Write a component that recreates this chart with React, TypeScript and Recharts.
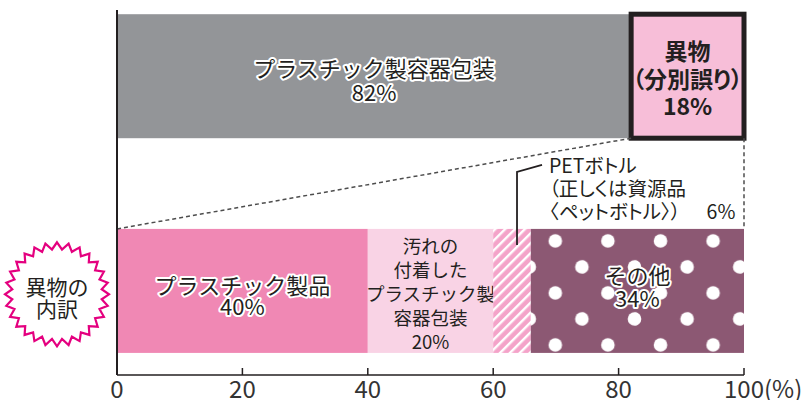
import React from "react";
import { BarChart, Bar, XAxis, YAxis } from "recharts";

// rows: upper = what was put out as plastic packaging, lower = breakdown of the foreign matter
const rowNames = ["プラスチック製容器包装の中身", "異物の内訳"];
const rowTickLines = [[], ["異物の", "内訳"]];

const sortNames = ["プラスチック製容器包装", "異物(分別誤り)"];
const sortValues = [82, 18];
const sortLabels = [["プラスチック製容器包装"], ["異物", "（分別誤り）"]];

const foreignNames = ["プラスチック製品", "汚れの付着したプラスチック製容器包装", "PETボトル", "その他"];
const foreignValues = [40, 20, 6, 34];
const foreignLabels = [["プラスチック製品"], ["汚れの", "付着した", "プラスチック製", "容器包装"], [], ["その他"]];
const petNote = ["PETボトル", "（正しくは資源品", "〈ペットボトル〉）"];

const xTicks = [0, 20, 40, 60, 80, 100];

const sortKeys = sortValues.map((_, i) => `s${i}`);
const foreignKeys = foreignValues.map((_, i) => `f${i}`);

// numeric row position (vertical layout draws the y axis top-down)
const data = rowNames.map((name, r) => {
  const row: Record<string, any> = { name, row: r };
  sortKeys.forEach((k, i) => (row[k] = r === 0 ? sortValues[i] : 0));
  foreignKeys.forEach((k, i) => (row[k] = r === 1 ? foreignValues[i] : 0));
  return row;
});

const INK = "#231f20";
const FONT = "'Noto Sans CJK JP', 'Noto Sans', sans-serif";

// bar geometry picked up while rendering, used for the dashed connectors
const geom: Record<string, number> = {};

function Lines({ cx, cy, lines, size, lh, weight = 400, halo = false, palt = false, anchor = "middle" }: any) {
  return (
    <text
      textAnchor={anchor}
      fontFamily={FONT}
      fontSize={size}
      fontWeight={weight}
      fill={INK}
      stroke={halo ? "#fff" : "none"}
      strokeWidth={halo ? 4 : 0}
      strokeLinejoin="round"
      paintOrder="stroke"
      style={palt ? { fontFeatureSettings: '"palt"' } : undefined}
    >
      {lines.map((t: string, i: number) => (
        <tspan key={i} x={cx} y={cy + i * lh + size * 0.36}>
          {t}
        </tspan>
      ))}
    </text>
  );
}

const segStyle: Record<string, any> = {
  s0: { fill: "#939598", size: 22, lh: 23.5, dy: -7, halo: true },
  s1: { fill: "#f7bed8", size: 23, lh: 27.5, dy: -24, weight: 700, palt: true },
  f0: { fill: "#f088b4", size: 22, lh: 21, dy: -5, halo: true },
  f1: { fill: "#f9d3e5", size: 18.5, lh: 24, dy: -45 },
  f2: { fill: "#f4a3c9" },
  f3: { fill: "#8c5873", size: 22, lh: 23, dy: -15, halo: true },
};

function makeShape(key: string, labelLines: string[], value: number) {
  const st = segStyle[key];
  return (props: any) => {
    const { x, y, width, height } = props;
    if (!width || width <= 0) return null;
    const cx = x + width / 2;
    const cy = y + height / 2;
    const lines = labelLines.length ? [...labelLines, `${value}%`] : [];
    let body: React.ReactNode = <rect x={x} y={y} width={width} height={height} fill={st.fill} />;
    let extra: React.ReactNode = null;

    if (key === "s1") {
      geom.boxLeft = x;
      geom.boxBottom = y + height;
      body = <rect x={x} y={y} width={width} height={height} fill={st.fill} stroke={INK} strokeWidth={5} />;
    }
    if (key === "f0") {
      geom.lowLeft = x;
      geom.lowTop = y;
    }
    if (key === "f2") {
      const id = "stripe-pet";
      const lx = cx + 5;
      body = (
        <g>
          <defs>
            <pattern id={id} patternUnits="userSpaceOnUse" width={7} height={7} patternTransform="rotate(45)">
              <rect width={7} height={7} fill={st.fill} />
              <rect width={2.4} height={7} fill="#fff" />
            </pattern>
          </defs>
          <rect x={x} y={y} width={width} height={height} fill={`url(#${id})`} />
        </g>
      );
      extra = (
        <g>
          <polyline
            points={`${lx},${y + 16} ${lx},${y - 57} ${lx + 25},${y - 64}`}
            fill="none"
            stroke={INK}
            strokeWidth={1.8}
          />
          <text fontFamily={FONT} fontSize={19.5} fill={INK} style={{ fontFeatureSettings: '"palt"' }}>
            {petNote.map((t, i) => (
              <tspan key={i} x={lx + 32} y={y - 63 + i * 23 + 7}>
                {t}
                {i === petNote.length - 1 ? <tspan dx={26}>{`${value}%`}</tspan> : null}
              </tspan>
            ))}
          </text>
        </g>
      );
    }
    if (key === "f3") {
      const id = "dots-other";
      body = (
        <g>
          <defs>
            <pattern id={id} patternUnits="userSpaceOnUse" x={x} y={y} width={52.6} height={52}>
              <rect width={52.6} height={52} fill={st.fill} />
              <circle cx={24.5} cy={12} r={6.8} fill="#fff" />
              <circle cx={-1.5} cy={38} r={6.8} fill="#fff" />
              <circle cx={51.1} cy={38} r={6.8} fill="#fff" />
            </pattern>
          </defs>
          <rect x={x} y={y} width={width} height={height} fill={`url(#${id})`} />
        </g>
      );
      extra = (
        <g stroke="#4d4d4d" strokeWidth={1.5} strokeDasharray="4 3" fill="none">
          <line x1={geom.boxLeft} y1={geom.boxBottom} x2={geom.lowLeft} y2={geom.lowTop} />
          <line x1={x + width} y1={geom.boxBottom} x2={x + width} y2={y} />
        </g>
      );
    }

    return (
      <g>
        {body}
        {lines.length ? (
          <Lines
            cx={cx}
            cy={cy + st.dy}
            lines={lines}
            size={st.size}
            lh={st.lh}
            weight={st.weight}
            halo={st.halo}
            palt={st.palt}
          />
        ) : null}
        {extra}
      </g>
    );
  };
}

function starPoints(cx: number, cy: number, n: number, ro: number, ri: number) {
  const pts: string[] = [];
  for (let i = 0; i < n * 2; i++) {
    const a = (Math.PI * i) / n - Math.PI / 2;
    const r = i % 2 === 0 ? ro : ri;
    pts.push(`${(cx + r * Math.cos(a)).toFixed(1)},${(cy + r * Math.sin(a)).toFixed(1)}`);
  }
  return pts.join(" ");
}

function RowTick(props: any) {
  const { x, y, payload } = props;
  const lines = rowTickLines[payload.value] || [];
  if (!lines.length) return null;
  const cx = x - 60;
  const cy = y + 3;
  return (
    <g>
      <polygon points={starPoints(cx, cy, 28, 52, 45)} fill="#fff" stroke="#e4007f" strokeWidth={2.2} strokeLinejoin="miter" />
      <Lines cx={cx} cy={cy - 6.5} lines={lines} size={21} lh={22} />
    </g>
  );
}

function PercentTick(props: any) {
  const { x, y, payload } = props;
  const last = payload.value === xTicks[xTicks.length - 1];
  return (
    <g>
      <line x1={x} y1={y} x2={x} y2={y - 7} stroke={INK} strokeWidth={1.5} />
      <text x={x} y={y + 23} textAnchor="middle" fontFamily={FONT} fontSize={24} fill="#333">
        {payload.value}
      </text>
      {last ? (
        <text x={x + 20} y={y + 23} fontFamily={FONT} fontSize={24} fill="#333">
          (%)
        </text>
      ) : null}
    </g>
  );
}

export default function App() {
  return (
    <div style={{ position: "absolute", left: 0, top: 0, width: 805, height: 400, background: "#fff" }}>
      <BarChart
        width={805}
        height={400}
        data={data}
        layout="vertical"
        margin={{ top: 10, right: 61, bottom: 0, left: 0 }}
        barSize={124}
      >
        <XAxis
          type="number"
          domain={[0, 100]}
          ticks={xTicks}
          interval={0}
          height={25}
          tickSize={0}
          tickMargin={0}
          tickLine={false}
          axisLine={{ stroke: INK, strokeWidth: 1.5 }}
          tick={<PercentTick />}
        />
        <YAxis
          type="number"
          dataKey="row"
          domain={[-0.31, 1.39]}
          ticks={[0, 1]}
          interval={0}
          width={117}
          tickSize={0}
          tickMargin={0}
          tickLine={false}
          axisLine={{ stroke: INK, strokeWidth: 2 }}
          tick={<RowTick />}
        />
        {sortKeys.map((k, i) => (
          <Bar
            key={k}
            dataKey={k}
            name={sortNames[i]}
            stackId="a"
            isAnimationActive={false}
            shape={makeShape(k, sortLabels[i], sortValues[i])}
          />
        ))}
        {foreignKeys.map((k, i) => (
          <Bar
            key={k}
            dataKey={k}
            name={foreignNames[i]}
            stackId="a"
            isAnimationActive={false}
            shape={makeShape(k, foreignLabels[i], foreignValues[i])}
          />
        ))}
      </BarChart>
    </div>
  );
}
